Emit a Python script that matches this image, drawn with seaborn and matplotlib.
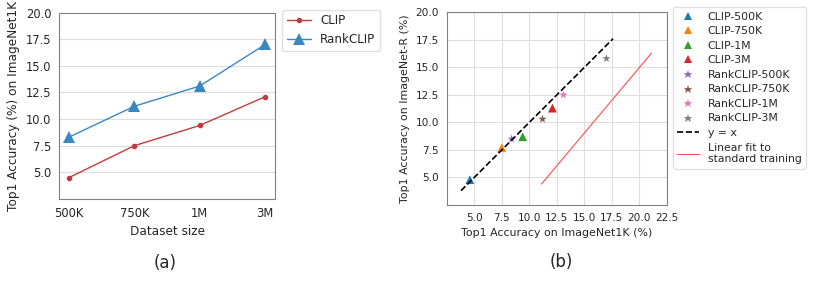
import numpy as np
import pandas as pd
import matplotlib
matplotlib.use('Agg')
import matplotlib.pyplot as plt
import seaborn as sns

# panel (a) data
sizes = ['500K', '750K', '1M', '3M']
clip_acc = [4.5, 7.5, 9.4, 12.1]
rankclip_acc = [8.3, 11.2, 13.1, 17.0]

# panel (b) data
models = ['CLIP-500K', 'CLIP-750K', 'CLIP-1M', 'CLIP-3M',
          'RankCLIP-500K', 'RankCLIP-750K', 'RankCLIP-1M', 'RankCLIP-3M']
in1k_acc = [4.6, 7.5, 9.4, 12.1, 8.4, 11.2, 13.1, 17.0]
inr_acc = [4.8, 7.7, 8.7, 11.3, 8.5, 10.3, 12.5, 15.8]
diag_x = [3.8, 17.6]
fit_x = [11.1, 21.1]
fit_y = [4.4, 16.3]

sns.set_style('whitegrid', {'axes.edgecolor': '0.5', 'grid.color': '0.87',
                            'text.color': '0.15', 'axes.labelcolor': '0.15',
                            'xtick.color': '0.15', 'ytick.color': '0.15'})
plt.rcParams['font.family'] = ['DejaVu Sans']

fig = plt.figure(figsize=(8.3, 2.81), dpi=100)

# ---- (a) ----
ax1 = fig.add_axes([59 / 830, 1 - 199 / 281, 216 / 830, 186.5 / 281])
df_a = pd.DataFrame({'size': sizes * 2,
                     'acc': clip_acc + rankclip_acc,
                     'method': ['CLIP'] * 4 + ['RankCLIP'] * 4})
sns.lineplot(data=df_a[df_a['method'] == 'CLIP'], x='size', y='acc', ax=ax1,
             color='#bf3b3f', marker='o', markersize=4, lw=1, label='CLIP',
             markeredgewidth=0)
sns.lineplot(data=df_a[df_a['method'] == 'RankCLIP'], x='size', y='acc', ax=ax1,
             color='#3a87c2', marker='^', markersize=9, lw=1, label='RankCLIP',
             markeredgewidth=0)
ax1.set_ylim(2.5, 20)
ax1.set_xlim(-0.15, 3.15)
ax1.set_yticks([5, 7.5, 10, 12.5, 15, 17.5, 20])
ax1.grid(axis='x', visible=False)
ax1.tick_params(labelsize=8.3, pad=2)
ax1.set_xlabel('Dataset size', fontsize=8.7)
ax1.set_ylabel('Top1 Accuracy (%) on ImageNet1K', fontsize=8.7)
ax1.legend(loc='upper left', bbox_to_anchor=(1.032, 1.016), borderaxespad=0,
           fontsize=8.6, frameon=True, edgecolor='0.85')

# ---- (b) ----
ax2 = fig.add_axes([446.7 / 830, 1 - 205 / 281, 220.3 / 830, 192.7 / 281])
df_b = pd.DataFrame({'model': models, 'in1k': in1k_acc, 'inr': inr_acc})
markers = ['^'] * 4 + ['*'] * 4
sns.scatterplot(data=df_b, x='in1k', y='inr', hue='model', style='model',
                markers=markers, palette=sns.color_palette('tab10', 8),
                s=40, linewidth=0, ax=ax2)
ax2.plot(diag_x, diag_x, ls='--', color='black', lw=1.2, label='y = x')
ax2.plot(fit_x, fit_y, color='#ff4d4d', lw=0.8,
         label='Linear fit to\nstandard training')
leg = ax2.get_legend()
handles = list(leg.legend_handles)
labels = [t.get_text() for t in leg.texts]
h2, l2 = ax2.get_legend_handles_labels()
handles += h2[-2:]
labels += l2[-2:]
ax2.legend(handles, labels, loc='upper left', bbox_to_anchor=(1.027, 1.026),
           borderaxespad=0, fontsize=7.8, frameon=True, edgecolor='0.85',
           labelspacing=0.42, handlelength=2.0)
ax2.set_xlim(2.5, 22.5)
ax2.set_ylim(2.5, 20)
ax2.set_xticks([5, 7.5, 10, 12.5, 15, 17.5, 20, 22.5])
ax2.set_yticks([5, 7.5, 10, 12.5, 15, 17.5, 20])
ax2.tick_params(labelsize=7.6, pad=2)
ax2.set_xlabel('Top1 Accuracy on ImageNet1K (%)', fontsize=7.9)
ax2.set_ylabel('Top1 Accuracy on ImageNet-R (%)', fontsize=7.9)

fig.text(165 / 830, 1 - 263 / 281, '(a)', ha='center', va='center', fontsize=12)
fig.text(561 / 830, 1 - 262 / 281, '(b)', ha='center', va='center', fontsize=12)

fig.savefig('out.png', dpi=100)
